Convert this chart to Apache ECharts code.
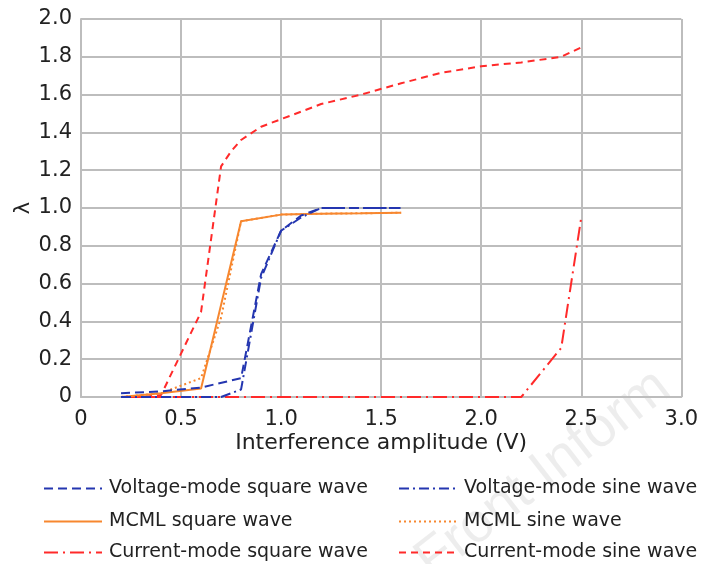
<!DOCTYPE html>
<html>
<head>
<meta charset="utf-8">
<script src="https://cdn.jsdelivr.net/npm/echarts@6/dist/echarts.min.js"></script>
<style>
  html, body { margin: 0; padding: 0; background: #fff; }
  #chart { width: 701px; height: 564px; }
</style>
</head>
<body>
<div id="chart"></div>
<script>
// Interference amplitude (V) vs. λ for each logic style and waveform
const xTicks = [0, 0.5, 1.0, 1.5, 2.0, 2.5, 3.0];
const yTicks = [0, 0.2, 0.4, 0.6, 0.8, 1.0, 1.2, 1.4, 1.6, 1.8, 2.0];

const seriesNames = [
  'Voltage-mode square wave',
  'Voltage-mode sine wave',
  'MCML square wave',
  'MCML sine wave',
  'Current-mode square wave',
  'Current-mode sine wave'
];

const voltageSquareX = [0.2, 0.4, 0.6, 0.8, 0.9, 1.0, 1.1, 1.2, 1.4, 1.6];
const voltageSquareY = [0.02, 0.03, 0.05, 0.10, 0.65, 0.88, 0.96, 1.00, 1.00, 1.00];

const voltageSineX = [0.2, 0.4, 0.6, 0.7, 0.8, 0.9, 1.0, 1.1, 1.2, 1.4, 1.6];
const voltageSineY = [0.00, 0.00, 0.00, 0.00, 0.04, 0.63, 0.88, 0.95, 1.00, 1.00, 1.00];

const mcmlSquareX = [0.2, 0.4, 0.6, 0.8, 1.0, 1.2, 1.4, 1.6];
const mcmlSquareY = [0.00, 0.02, 0.045, 0.93, 0.965, 0.97, 0.972, 0.975];

const mcmlSineX = [0.2, 0.4, 0.5, 0.6, 0.7, 0.8, 1.0, 1.2, 1.4, 1.6];
const mcmlSineY = [0.00, 0.02, 0.06, 0.10, 0.42, 0.93, 0.965, 0.97, 0.972, 0.975];

const currentSquareX = [0.2, 0.4, 0.6, 0.8, 1.0, 1.2, 1.4, 1.6, 1.8, 2.0, 2.2, 2.4, 2.5];
const currentSquareY = [0, 0, 0, 0, 0, 0, 0, 0, 0, 0, 0, 0.26, 0.95];

const currentSineX = [0.2, 0.3, 0.4, 0.6, 0.7, 0.75, 0.8, 0.9, 1.0, 1.2, 1.4, 1.6, 1.8, 2.0, 2.2, 2.4, 2.5];
const currentSineY = [0.00, 0.00, 0.01, 0.45, 1.22, 1.30, 1.36, 1.43, 1.47, 1.55, 1.60, 1.66, 1.715, 1.75, 1.77, 1.80, 1.85];

function pairs(xs, ys) { return xs.map((x, i) => [x, ys[i]]); }

const BLUE = '#2436b0';
const ORANGE = '#f7872f';
const RED = '#ff2a2a';
const FONT = 'DejaVu Sans, Liberation Sans, sans-serif';
const TEXT = '#222';

function lineSeries(name, xs, ys, color, type) {
  return {
    name: name,
    type: 'line',
    data: pairs(xs, ys),
    symbol: 'none',
    showSymbol: false,
    lineStyle: { color: color, width: 2, type: type },
    itemStyle: { color: color },
    z: 3
  };
}

const series = [
  lineSeries(seriesNames[4], currentSquareX, currentSquareY, RED, [14, 5, 2, 5]),
  lineSeries(seriesNames[5], currentSineX, currentSineY, RED, [7, 5]),
  lineSeries(seriesNames[3], mcmlSineX, mcmlSineY, ORANGE, [2, 3]),
  lineSeries(seriesNames[2], mcmlSquareX, mcmlSquareY, ORANGE, 'solid'),
  lineSeries(seriesNames[0], voltageSquareX, voltageSquareY, BLUE, [9, 5]),
  lineSeries(seriesNames[1], voltageSineX, voltageSineY, BLUE, [10, 4, 2, 4])
];

// Two columns x three rows of legend entries
const legendCols = [43, 398];
const legendRows = [479, 512, 543];
const legends = seriesNames.map((name, i) => ({
  left: legendCols[i % 2],
  top: legendRows[Math.floor(i / 2)],
  itemWidth: 58,
  itemHeight: 12,
  itemGap: 0,
  padding: 0,
  data: [name],
  selectedMode: false,
  itemStyle: { opacity: 0 },
  textStyle: { fontFamily: FONT, fontSize: 19, color: TEXT, padding: [0, 0, 0, 2] }
}));

const tickFmt = v => (v === 0 ? '0' : v.toFixed(1));

const option = {
  backgroundColor: '#fff',
  animation: false,
  grid: { left: 81, right: 17, top: 19, bottom: 167 },
  xAxis: {
    type: 'value',
    min: xTicks[0],
    max: xTicks[xTicks.length - 1],
    interval: 0.5,
    name: 'Interference amplitude (V)',
    nameLocation: 'middle',
    nameGap: 35,
    nameMoveOverlap: false,
    nameTextStyle: { fontFamily: FONT, fontSize: 22, color: TEXT },
    axisLine: { show: true, lineStyle: { color: '#bdbdbd', width: 2 } },
    axisTick: { show: false },
    splitLine: { show: true, lineStyle: { color: '#bdbdbd', width: 2 } },
    axisLabel: { fontFamily: FONT, fontSize: 21, color: TEXT, margin: 12, formatter: tickFmt }
  },
  yAxis: {
    type: 'value',
    min: yTicks[0],
    max: yTicks[yTicks.length - 1],
    interval: 0.2,
    name: 'λ',
    nameLocation: 'middle',
    nameGap: 57,
    nameRotate: 90,
    nameMoveOverlap: false,
    nameTextStyle: { fontFamily: FONT, fontSize: 21, color: TEXT, verticalAlign: 'middle' },
    axisLine: { show: true, lineStyle: { color: '#bdbdbd', width: 2 } },
    axisTick: { show: false },
    splitLine: { show: true, lineStyle: { color: '#bdbdbd', width: 2 } },
    axisLabel: { fontFamily: FONT, fontSize: 21, color: TEXT, margin: 9, formatter: tickFmt }
  },
  legend: legends,
  graphic: [
    {
      type: 'text',
      x: 440, y: 590,
      rotation: 0.66,
      silent: true,
      z: 0,
      style: {
        text: 'Front Inform',
        fontFamily: 'Liberation Sans, sans-serif',
        fontSize: 56,
        fill: 'rgba(0,0,0,0.07)',
        verticalAlign: 'bottom'
      }
    }
  ],
  series: series
};

const chart = echarts.init(document.getElementById('chart'), null, { renderer: 'canvas' });
chart.setOption(option);
</script>
</body>
</html>
